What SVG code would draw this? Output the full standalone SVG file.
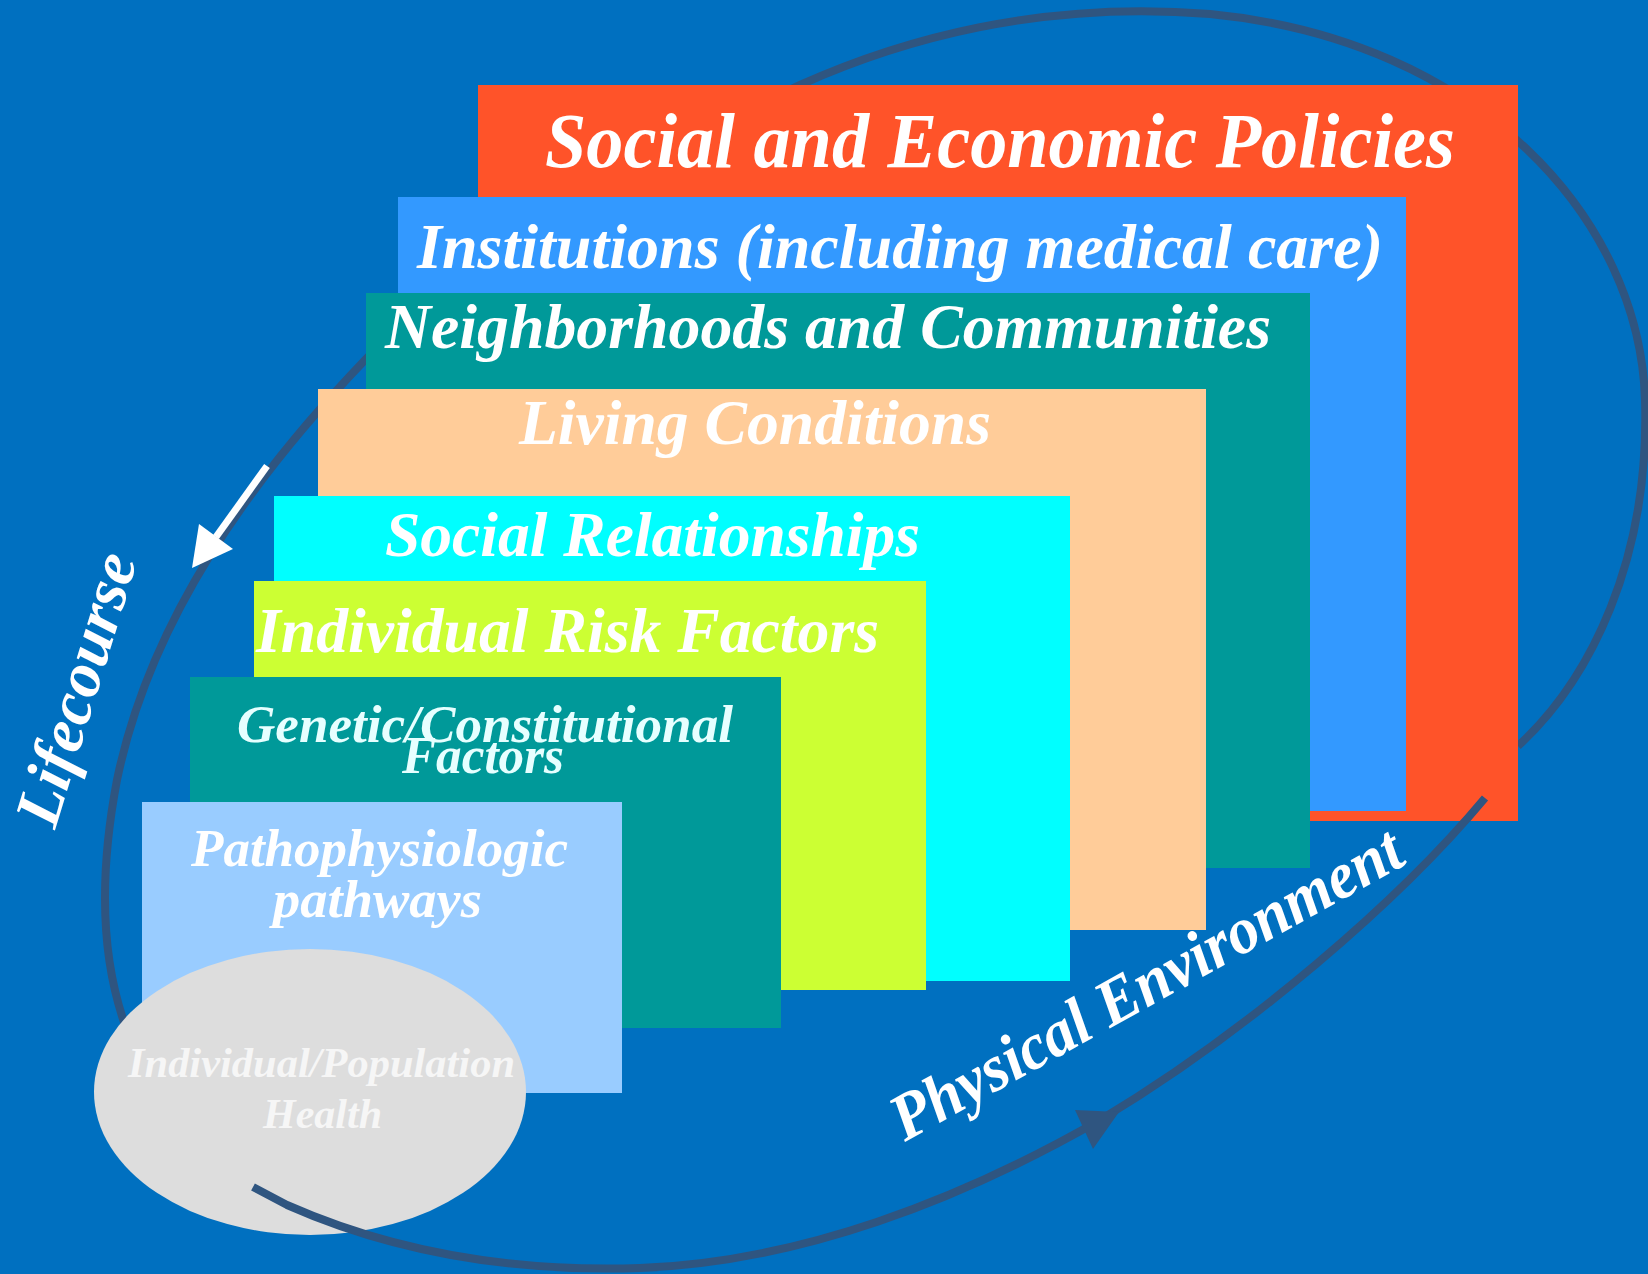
<svg xmlns="http://www.w3.org/2000/svg" width="1648" height="1274" viewBox="0 0 1648 1274">
  <style>
    .lbl { font-family: "Liberation Serif", "Times New Roman", serif; font-weight: bold; font-style: italic; fill: #FFFFFF; }
    .big { font-size: 64px; }
    .mid { font-size: 53px; }
    .sml { font-size: 42px; fill: #F6F6F6; }
    .loop { fill: none; stroke: #2F5580; stroke-width: 8; }
  </style>
  <rect x="0" y="0" width="1648" height="1274" fill="#0070C0"/>

  <g id="connectors">
    <path id="outer-loop" class="loop" d="M 1518 746 C 1590 680 1650 560 1645 400 C 1640 220 1480 40 1210 14 C 1040 0 900 40 800 85 C 620 170 450 270 365 360 C 250 480 150 620 117 780 C 98 880 102 960 125 1025"/>
  </g>

  <g id="social-economic-policies">
    <rect x="478" y="85" width="1040" height="736" fill="#FF5329"/>
    <text class="lbl" x="545" y="167" font-size="78" textLength="910" lengthAdjust="spacingAndGlyphs">Social and Economic Policies</text>
  </g>
  <g id="institutions">
    <rect x="398" y="197" width="1008" height="614" fill="#3399FF"/>
    <text class="lbl big" x="417" y="268" textLength="966" lengthAdjust="spacingAndGlyphs">Institutions (including medical care)</text>
  </g>
  <g id="neighborhoods">
    <rect x="366" y="293" width="944" height="575" fill="#009999"/>
    <text class="lbl big" x="385" y="348" textLength="886" lengthAdjust="spacingAndGlyphs">Neighborhoods and Communities</text>
  </g>
  <g id="living-conditions">
    <rect x="318" y="389" width="888" height="541" fill="#FFCC99"/>
    <text class="lbl big" x="519" y="444" textLength="472" lengthAdjust="spacingAndGlyphs">Living Conditions</text>
  </g>
  <g id="social-relationships">
    <rect x="274" y="496" width="796" height="485" fill="#00FFFF"/>
    <text class="lbl big" x="385" y="556" textLength="535" lengthAdjust="spacingAndGlyphs">Social Relationships</text>
  </g>
  <g id="individual-risk-factors">
    <rect x="254" y="581" width="672" height="409" fill="#CCFF33"/>
    <text class="lbl big" x="256" y="652" textLength="623" lengthAdjust="spacingAndGlyphs">Individual Risk Factors</text>
  </g>
  <g id="genetic-factors">
    <rect x="190" y="677" width="591" height="351" fill="#009999"/>
    <text class="lbl mid" x="237" y="742" style="fill:#E6FFFF" textLength="496" lengthAdjust="spacingAndGlyphs">Genetic/Constitutional</text>
    <text class="lbl mid" x="402" y="773" style="fill:#E6FFFF" textLength="162" lengthAdjust="spacingAndGlyphs">Factors</text>
  </g>
  <g id="pathophysiologic">
    <rect x="142" y="802" width="480" height="291" fill="#99CCFF"/>
    <text class="lbl mid" x="191" y="866" textLength="377" lengthAdjust="spacingAndGlyphs">Pathophysiologic</text>
    <text class="lbl mid" x="273" y="917" textLength="209" lengthAdjust="spacingAndGlyphs">pathways</text>
  </g>
  <g id="health">
    <ellipse cx="310" cy="1092" rx="216" ry="143" fill="#DDDDDD"/>
    <text class="lbl sml" x="128" y="1077" textLength="387" lengthAdjust="spacingAndGlyphs">Individual/Population</text>
    <text class="lbl sml" x="263" y="1128" textLength="119" lengthAdjust="spacingAndGlyphs">Health</text>
  </g>

  <g id="connectors-top">
    <path id="environment-arrow" class="loop" d="M 253 1187 L 287 1205 C 400 1255 520 1272 640 1268 C 800 1262 960 1200 1100 1120 C 1250 1030 1400 900 1485 798"/>
    <polygon points="1075,1110 1093,1149 1119,1112" fill="#2F5580"/>
    <g id="lifecourse-arrow">
      <line x1="267" y1="466" x2="216" y2="537" stroke="#FFFFFF" stroke-width="7"/>
      <polygon points="192,568 199,524 233,549" fill="#FFFFFF"/>
    </g>
  </g>

  <g id="lifecourse-label">
    <text class="lbl big" x="55" y="830" transform="rotate(-73 55 830)" textLength="282" lengthAdjust="spacingAndGlyphs">Lifecourse</text>
  </g>
  <g id="physical-environment-label">
    <text class="lbl" font-size="66" x="905" y="1142" transform="rotate(-29 905 1142)" textLength="575" lengthAdjust="spacingAndGlyphs">Physical Environment</text>
  </g>
</svg>
